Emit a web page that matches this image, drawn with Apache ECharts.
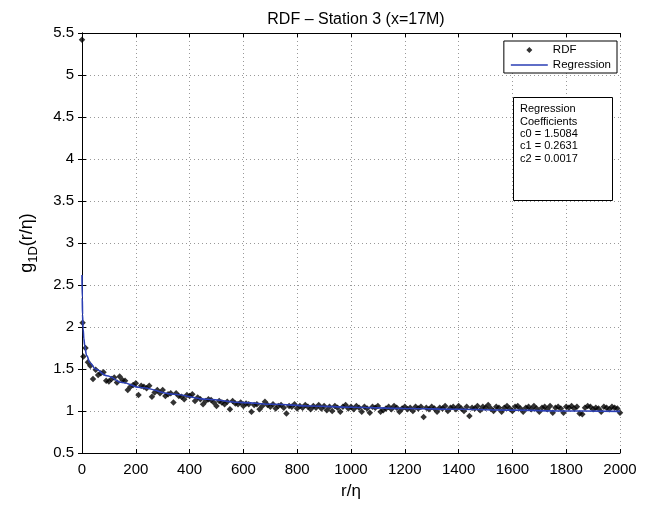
<!DOCTYPE html>
<html>
<head>
<meta charset="utf-8">
<script src="https://cdn.jsdelivr.net/npm/echarts@6/dist/echarts.min.js"></script>
<style>html,body{margin:0;padding:0;background:#fff;}#c{width:653px;height:507px;}</style>
</head>
<body>
<div id="c"></div>
<script>
var FONT = 'Liberation Sans, Arial, Helvetica, sans-serif';
var titleText = 'RDF \u2013 Station 3 (x=17M)';
var xName = 'r/\u03b7';
var yTicks = [0.5, 1, 1.5, 2, 2.5, 3, 3.5, 4, 4.5, 5, 5.5];
var xTicks = [0, 200, 400, 600, 800, 1000, 1200, 1400, 1600, 1800, 2000];
var coefLines = ['Regression', 'Coefficients', 'c0 = 1.5084', 'c1 = 0.2631', 'c2 = 0.0017'];

var rdfR = [0,2,5,13,22,31,41,51,60,
70,80,90,100,110,120,130,140,150,160,170,180,190,200,210,220,230,240,250,260,270,280,290,300,
310,320,330,340,350,360,370,380,390,400,410,420,430,440,450,460,470,480,490,500,
510,520,530,540,550,560,570,580,590,600,610,620,630,640,650,660,670,680,690,700,
710,720,730,740,750,760,770,780,790,800,810,820,830,840,850,860,870,880,890,900,
910,920,930,940,950,960,970,980,990,1000,1010,1020,1030,1040,1050,1060,1070,1080,1090,1100,
1110,1120,1130,1140,1150,1160,1170,1180,1190,1200,1210,1220,1230,1240,1250,1260,1270,1280,1290,1300,
1310,1320,1330,1340,1350,1360,1370,1380,1390,1400,1410,1420,1430,1440,1450,1460,1470,1480,1490,1500,
1510,1520,1530,1540,1550,1560,1570,1580,1590,1600,1610,1620,1630,1640,1650,1660,1670,1680,1690,1700,
1710,1720,1730,1740,1750,1760,1770,1780,1790,1800,1810,1820,1830,1840,1850,1860,1870,1880,1890,1900,
1910,1920,1930,1940,1950,1960,1970,1980,1990,2000];
var rdfG = [5.42,2.05,1.65,1.75,1.58,1.54,1.38,1.49,1.43,
1.45,1.46,1.36,1.35,1.38,1.40,1.34,1.41,1.37,1.36,1.25,1.29,1.31,1.33,1.19,1.30,1.29,1.27,1.30,1.17,1.22,1.25,1.21,1.25,
1.18,1.20,1.21,1.10,1.21,1.18,1.17,1.14,1.19,1.18,1.20,1.12,1.16,1.14,1.08,1.12,1.14,1.13,1.10,1.06,
1.12,1.10,1.08,1.11,1.02,1.12,1.09,1.08,1.10,1.06,1.09,1.08,0.99,1.07,1.08,1.02,1.06,1.11,1.07,1.05,
1.08,1.03,1.06,1.07,1.04,0.97,1.06,1.05,1.08,1.03,1.06,1.04,1.07,1.05,1.02,1.06,1.04,1.07,1.03,1.06,
1.01,1.05,1.00,1.06,1.04,0.99,1.05,1.07,1.03,1.05,1.02,1.06,1.04,0.99,1.05,1.03,0.98,1.05,1.04,1.06,
0.99,1.01,1.03,1.05,1.02,1.06,1.04,0.99,1.03,1.05,1.02,1.04,1.00,1.05,1.03,1.05,0.93,1.04,1.02,1.05,
1.03,0.99,1.04,1.03,1.06,1.00,1.04,1.05,1.02,1.06,1.03,1.00,1.05,0.94,1.04,1.03,1.06,1.01,1.05,1.04,
1.07,1.03,1.00,1.05,1.04,0.99,1.04,1.06,1.03,1.00,1.05,1.06,1.03,0.99,1.04,1.05,1.02,1.06,1.03,0.99,
1.04,1.05,1.02,1.06,0.98,1.04,1.05,1.03,0.98,1.05,1.04,1.06,1.03,1.05,0.97,0.96,1.04,1.06,1.05,1.02,
1.04,1.03,0.99,1.05,1.04,1.02,1.05,1.04,1.03,0.98];

var regR = [0, 1, 2, 4, 7, 10, 17, 30, 50, 92, 150, 216, 340, 464, 600, 712, 850, 1000, 1200, 1400, 1600, 1800, 2000];
var regG = [2.62, 2.35, 2.15, 1.98, 1.86, 1.78, 1.66, 1.575, 1.50, 1.42, 1.34, 1.28, 1.20, 1.14, 1.10, 1.08, 1.06, 1.045, 1.03, 1.02, 1.01, 1.0, 0.995];

var rdfData = rdfR.map(function (r, i) { return [r, rdfG[i]]; });
var regData = regR.map(function (r, i) { return [r, regG[i]]; });

var chart = echarts.init(document.getElementById('c'), null, {renderer: 'canvas'});
var axisCommon = {
  axisLine: {show: true, lineStyle: {color: '#000', width: 1}},
  axisTick: {show: true, inside: true, length: 4, lineStyle: {color: '#000'}}
};
// legend icons: wide invisible bounding points keep the visible glyph small inside the item box
var dotIcon = 'path://M0,0L0.01,0L0.01,0.01Z M37,10L37.01,10L37.01,10.01Z M18.5,2L21.5,5L18.5,8L15.5,5Z';
var lineIcon = 'path://M0,0L0.01,0L0.01,0.01Z M37,10L37.01,10L37.01,10.01Z M0,4.2L37,4.2L37,5.8L0,5.8Z';
var option = {
  backgroundColor: '#fff',
  animation: false,
  textStyle: {fontFamily: FONT},
  title: {text: titleText, left: 351, top: 7, textAlign: 'center',
    textStyle: {fontFamily: FONT, fontSize: 16, fontWeight: 'normal', color: '#000'}},
  grid: {left: 82, top: 33, right: 33, bottom: 54, show: false},
  legend: {
    right: 36, top: 41, orient: 'vertical', itemGap: 3, itemWidth: 37, itemHeight: 10,
    padding: [3, 6, 2, 7], borderColor: '#000', borderWidth: 1, backgroundColor: '#fff',
    textStyle: {fontFamily: FONT, fontSize: 11.5, color: '#000'},
    data: [{name: 'RDF', icon: dotIcon, itemStyle: {color: '#000'}},
           {name: 'Regression', icon: lineIcon, itemStyle: {color: '#2b3fb5'}}]
  },
  xAxis: [
    Object.assign({type: 'value', min: 0, max: 2000, interval: 200, position: 'bottom',
      name: xName, nameLocation: 'middle', nameGap: 30,
      nameTextStyle: {fontFamily: FONT, fontSize: 17, color: '#000'},
      axisLabel: {color: '#000', fontSize: 15, fontFamily: FONT, margin: 9,
        formatter: function (v) { return xTicks.indexOf(v) >= 0 ? String(v) : ''; }},
      splitLine: {show: true, lineStyle: {color: '#999', type: [1, 3], width: 1}}}, axisCommon),
    Object.assign({type: 'value', min: 0, max: 2000, interval: 200, position: 'top',
      axisLabel: {show: false}, splitLine: {show: false}}, axisCommon)
  ],
  yAxis: [
    Object.assign({type: 'value', min: 0.5, max: 5.5, interval: 0.5, position: 'left',
      name: '{g|g}{s|1D}{g|(r/\u03b7)}', nameLocation: 'middle', nameGap: 42, nameRotate: 90,
      nameTextStyle: {fontFamily: FONT, color: '#000',
        rich: {g: {fontSize: 18, fontFamily: FONT, color: '#000'},
               s: {fontSize: 13, fontFamily: FONT, color: '#000', padding: [12, 0, 0, 0]}}},
      axisLabel: {color: '#000', fontSize: 15, fontFamily: FONT, margin: 8,
        formatter: function (v) { return yTicks.indexOf(v) >= 0 ? String(v) : ''; }},
      splitLine: {show: true, lineStyle: {color: '#999', type: [1, 3], width: 1}}}, axisCommon),
    Object.assign({type: 'value', min: 0.5, max: 5.5, interval: 0.5, position: 'right',
      axisLabel: {show: false}, splitLine: {show: false}}, axisCommon)
  ],
  series: [
    {name: 'RDF', type: 'scatter', data: rdfData, symbol: 'diamond', symbolSize: 6.5,
      itemStyle: {color: '#000'}, z: 3},
    {name: 'Regression', type: 'line', data: regData, smooth: 0.4, smoothMonotone: 'x',
      showSymbol: false, symbol: 'none', lineStyle: {color: '#2b3fb5', width: 1.6},
      itemStyle: {color: '#2b3fb5'}, z: 4}
  ],
  graphic: [
    {type: 'rect', left: 513, top: 97, shape: {width: 99, height: 103},
      style: {fill: '#fff', stroke: '#000', lineWidth: 1}, z: 10},
    {type: 'text', left: 520, top: 103, z: 11,
      style: {text: coefLines.join('\n'), fontFamily: FONT, fontSize: 11, lineHeight: 12.4, fill: '#000'}}
  ]
};
chart.setOption(option);
</script>
</body>
</html>
